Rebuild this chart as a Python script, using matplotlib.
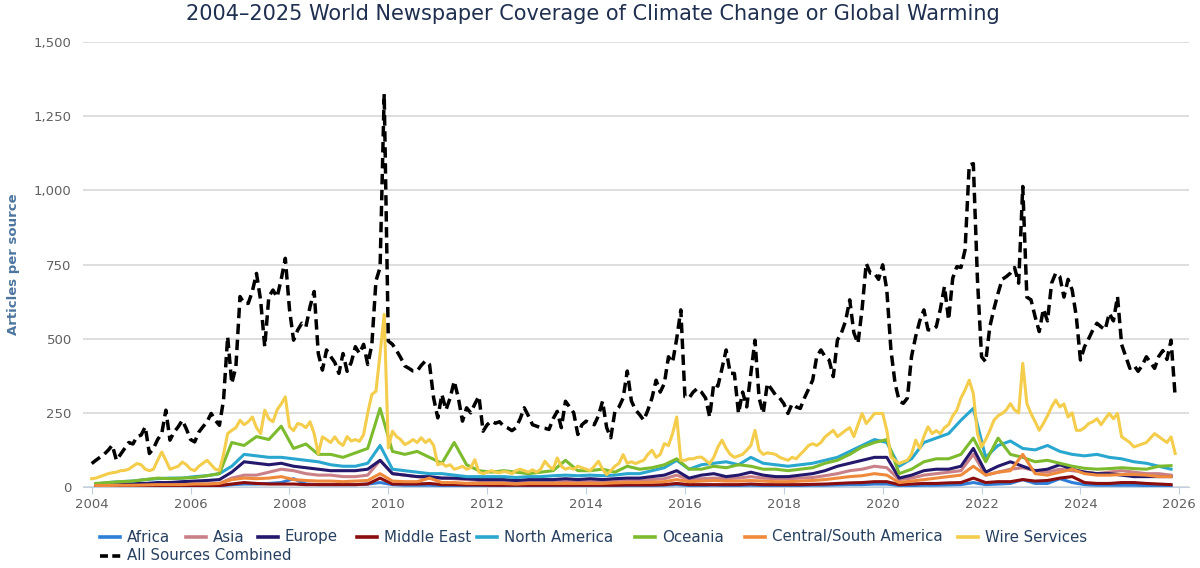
import numpy as np
import matplotlib.pyplot as plt
from matplotlib.lines import Line2D
from matplotlib.ticker import FuncFormatter

plt.rcParams['font.family'] = ['DejaVu Sans']

# monthly series, Jan 2004 .. Dec 2025
all_sources = [
    79, 90, 100, 110, 124, 141, 90, 110, 130, 150, 145, 170,          # 2004
    175, 203, 113, 130, 160, 180, 259, 158, 185, 203, 225, 195,       # 2005
    160, 152, 185, 203, 220, 248, 225, 208, 293, 507, 349, 405,       # 2006
    642, 619, 619, 660, 720, 630, 473, 642, 664, 640, 700, 771,       # 2007
    600, 495, 529, 552, 540, 608, 659, 450, 394, 462, 440, 420,       # 2008
    383, 450, 390, 420, 473, 450, 481, 413, 480, 695, 740, 1325,      # 2009
    492, 481, 460, 436, 408, 400, 391, 391, 410, 425, 413, 300,       # 2010
    233, 312, 260, 300, 357, 300, 222, 267, 250, 280, 306, 188,       # 2011
    210, 222, 215, 220, 205, 199, 190, 200, 230, 267, 240, 210,       # 2012
    205, 200, 198, 194, 230, 255, 200, 289, 270, 250, 177, 210,       # 2013
    222, 215, 210, 240, 289, 200, 166, 255, 270, 300, 391, 290,       # 2014
    260, 244, 225, 259, 300, 360, 320, 349, 439, 420, 500, 597,       # 2015
    304, 300, 320, 332, 320, 300, 236, 349, 340, 400, 462, 383,       # 2016
    383, 248, 320, 270, 383, 495, 300, 248, 349, 330, 310, 300,       # 2017
    281, 248, 280, 270, 265, 300, 330, 360, 440, 462, 440, 428,       # 2018
    372, 495, 520, 560, 631, 520, 484, 600, 754, 721, 721, 700,       # 2019
    749, 664, 462, 350, 290, 282, 300, 440, 507, 560, 597, 530,       # 2020
    529, 540, 600, 676, 563, 704, 743, 740, 800, 1085, 1090, 700,     # 2021
    439, 422, 540, 600, 653, 700, 709, 721, 740, 687, 1013, 640,      # 2022
    631, 574, 524, 600, 560, 687, 721, 709, 640, 700, 664, 574,       # 2023
    428, 473, 500, 529, 552, 540, 530, 586, 560, 642, 480, 440,       # 2024
    400, 410, 390, 410, 439, 420, 400, 440, 460, 430, 495, 304,       # 2025
]

wire = [
    28, 30, 35, 40, 45, 48, 50, 55, 56, 60, 70, 79,
    75, 60, 55, 60, 90, 118, 90, 60, 65, 70, 84, 75,
    60, 55, 70, 80, 90, 75, 60, 56, 110, 180, 191, 200,
    225, 210, 220, 236, 200, 180, 259, 230, 220, 260, 280, 304,
    203, 190, 214, 210, 200, 220, 180, 112, 169, 160, 150, 169,
    150, 140, 170, 155, 160, 154, 177, 250, 312, 323, 450, 582,
    132, 188, 170, 160, 143, 150, 160, 150, 166, 150, 160, 140,
    75, 80, 70, 75, 60, 64, 70, 60, 65, 92, 50, 45,
    50, 55, 50, 48, 52, 50, 45, 55, 60, 55, 50, 58,
    50, 60, 87, 70, 60, 98, 70, 60, 65, 60, 70, 65,
    60, 55, 70, 87, 60, 42, 55, 70, 80, 109, 80, 85,
    79, 85, 90, 110, 124, 100, 110, 146, 140, 180, 236, 90,
    90, 95, 95, 100, 101, 90, 79, 100, 135, 158, 130, 110,
    100, 105, 110, 124, 140, 191, 124, 110, 115, 113, 110, 100,
    95, 90, 100, 95, 110, 124, 140, 146, 140, 150, 169, 180,
    191, 170, 180, 191, 200, 170, 210, 248, 214, 230, 248, 248,
    248, 191, 101, 90, 79, 85, 90, 110, 158, 130, 170, 203,
    180, 190, 180, 200, 210, 240, 259, 300, 327, 360, 315, 180,
    135, 160, 190, 225, 240, 248, 260, 281, 260, 250, 417, 281,
    248, 220, 191, 214, 240, 270, 293, 270, 280, 236, 250, 191,
    191, 200, 214, 220, 230, 210, 230, 248, 230, 248, 169, 160,
    150, 135, 140, 145, 150, 165, 180, 170, 160, 150, 169, 113,
]

# quarterly series, Q1 2004 .. Q4 2025
oceania = [12, 15, 18, 20, 25, 30, 28, 30, 32, 38, 45, 150, 140, 170, 160, 205,
           130, 145, 110, 110, 100, 115, 130, 265, 120, 110, 120, 100, 80, 150, 75, 55,
           50, 55, 50, 45, 50, 55, 90, 55, 55, 60, 50, 70, 60, 65, 75, 95,
           60, 60, 70, 65, 75, 70, 60, 60, 55, 60, 65, 80, 90, 110, 135, 150,
           160, 45, 60, 85, 95, 95, 110, 165, 85, 165, 110, 100, 85, 90, 80, 70,
           63, 60, 62, 65, 62, 60, 70, 72]
north_america = [10, 15, 18, 20, 25, 28, 30, 30, 35, 38, 45, 70, 110, 105, 100, 100,
                 95, 90, 85, 75, 70, 70, 80, 140, 60, 55, 50, 45, 45, 40, 35, 35,
                 35, 35, 32, 35, 35, 38, 40, 38, 40, 38, 40, 45, 45, 55, 65, 90,
                 60, 75, 80, 85, 75, 100, 80, 75, 70, 75, 80, 90, 100, 120, 140, 160,
                 150, 70, 95, 150, 165, 180, 225, 265, 100, 140, 155, 130, 125, 140, 120, 110,
                 105, 110, 100, 95, 85, 80, 70, 60]
europe = [5, 8, 10, 12, 12, 15, 15, 18, 20, 22, 25, 50, 85, 80, 75, 80,
          70, 65, 60, 55, 55, 55, 60, 90, 45, 40, 35, 35, 30, 30, 28, 25,
          25, 25, 22, 25, 25, 25, 28, 25, 28, 25, 28, 30, 30, 35, 40, 55,
          30, 40, 45, 35, 40, 50, 40, 35, 35, 40, 45, 55, 70, 80, 90, 100,
          100, 30, 40, 55, 60, 60, 70, 130, 50, 70, 85, 70, 55, 60, 75, 60,
          50, 45, 45, 40, 35, 35, 35, 35]
asia = [3, 4, 5, 5, 6, 6, 8, 8, 10, 10, 12, 30, 40, 40, 50, 60,
        55, 45, 40, 40, 35, 35, 40, 90, 45, 40, 35, 30, 30, 28, 25, 22,
        20, 20, 18, 20, 20, 20, 22, 20, 20, 20, 22, 25, 22, 25, 28, 40,
        25, 28, 30, 28, 30, 35, 30, 28, 28, 30, 32, 38, 45, 55, 60, 70,
        65, 25, 30, 40, 45, 50, 55, 110, 40, 50, 60, 65, 55, 50, 60, 55,
        50, 45, 50, 55, 50, 45, 45, 40]
central_south = [5, 5, 6, 6, 7, 8, 8, 8, 10, 10, 12, 25, 30, 28, 30, 35,
                 25, 22, 20, 20, 18, 20, 22, 45, 20, 18, 18, 30, 15, 15, 12, 12,
                 12, 12, 10, 12, 12, 12, 12, 12, 12, 12, 14, 15, 15, 16, 18, 25,
                 18, 20, 22, 20, 20, 22, 20, 18, 18, 20, 22, 25, 30, 35, 38, 45,
                 40, 15, 20, 25, 30, 35, 40, 70, 40, 50, 55, 110, 45, 40, 50, 60,
                 45, 40, 40, 42, 42, 40, 35, 35]
middle_east = [1, 1, 2, 2, 2, 2, 3, 3, 3, 4, 5, 10, 15, 12, 10, 10,
               10, 8, 8, 8, 8, 8, 10, 30, 10, 10, 10, 12, 8, 8, 7, 7,
               6, 6, 6, 6, 6, 6, 6, 6, 6, 6, 6, 7, 7, 7, 8, 12,
               8, 8, 8, 8, 8, 10, 8, 8, 8, 8, 9, 10, 12, 14, 15, 18,
               18, 8, 10, 12, 12, 14, 15, 30, 15, 18, 18, 25, 20, 22, 30, 35,
               15, 12, 12, 15, 15, 12, 10, 8]
africa = [1, 1, 1, 2, 2, 2, 2, 3, 3, 3, 4, 8, 10, 10, 12, 15,
          28, 10, 8, 8, 8, 8, 10, 15, 8, 6, 6, 6, 5, 5, 5, 4,
          4, 4, 4, 4, 4, 4, 4, 4, 4, 4, 4, 5, 5, 5, 6, 8,
          5, 5, 6, 5, 5, 6, 5, 5, 5, 5, 6, 6, 7, 8, 8, 10,
          10, 5, 5, 6, 6, 7, 8, 15, 8, 10, 12, 25, 12, 12, 28, 15,
          8, 6, 6, 6, 6, 5, 5, 4]

series_names = ['Africa', 'Asia', 'Europe', 'Middle East', 'North America',
                'Oceania', 'Central/South America', 'Wire Services']
colors = ['#2f7ed8', '#c98086', '#23186b', '#8b0d0d', '#2aa7cf',
          '#7dbb2e', '#ef8a3c', '#f3cd4b']

months = 2004 + np.arange(len(all_sources)) / 12
quarters = 2004 + np.arange(len(oceania)) * 0.25 + 1 / 12

fig = plt.figure(figsize=(12, 5.68), dpi=100)
ax = fig.add_axes([0.069, 0.1426, 0.922, 0.7834])

quarterly = [africa, asia, europe, middle_east, north_america, oceania, central_south]
for i, vals in enumerate(quarterly):
    ax.plot(quarters, vals, color=colors[i], lw=2.2, zorder=3 + i, solid_joinstyle='round')
ax.plot(months, wire, color=colors[7], lw=2.2, zorder=11, solid_joinstyle='round')
ax.plot(months, all_sources, color='black', lw=2.5, dashes=(3, 1.6), zorder=12)

ax.set_xlim(2003.82, 2026.2)
ax.set_ylim(0, 1500)
ax.set_yticks(np.arange(0, 1501, 250))
ax.set_xticks(np.arange(2004, 2027, 2))
ax.yaxis.set_major_formatter(FuncFormatter(lambda v, p: f'{int(v):,}'))
ax.grid(axis='y', color='#d8d8d8', lw=1.2)
ax.set_axisbelow(True)
for s in ['top', 'right', 'left']:
    ax.spines[s].set_visible(False)
ax.spines['bottom'].set_color('#c0d0e0')
ax.tick_params(axis='y', length=0, pad=8, labelsize=9.5, labelcolor='#606060')
ax.tick_params(axis='x', length=5, color='#c0d0e0', pad=3, labelsize=9.5, labelcolor='#606060')

fig.text(14 / 1200, 1 - 264 / 568, 'Articles per source', rotation=90, ha='center', va='center',
         color='#4d759e', fontsize=9.5, fontweight='bold')
fig.text(0.494, 0.975, '2004\u20132025 World Newspaper Coverage of Climate Change or Global Warming',
         ha='center', va='center', fontsize=15, color='#1f2f4f')

# legend laid out like the original
leg_x = [100, 186, 258, 357, 477, 635, 745, 958]
for i, name in enumerate(series_names):
    x0 = leg_x[i] / 1200
    y0 = 1 - 537 / 568
    fig.add_artist(Line2D([x0, x0 + 20 / 1200], [y0, y0], color=colors[i], lw=2.6,
                          transform=fig.transFigure))
    fig.text(x0 + 27 / 1200, y0, name, ha='left', va='center', fontsize=10.8, color='#274060')
y1 = 1 - 556 / 568
fig.add_artist(Line2D([100 / 1200, 122 / 1200], [y1, y1], color='black', lw=2.6,
                      dashes=(2.2, 1.2), transform=fig.transFigure))
fig.text(127 / 1200, y1, 'All Sources Combined', ha='left', va='center', fontsize=10.8, color='#274060')

fig.savefig('out.png', dpi=100)
